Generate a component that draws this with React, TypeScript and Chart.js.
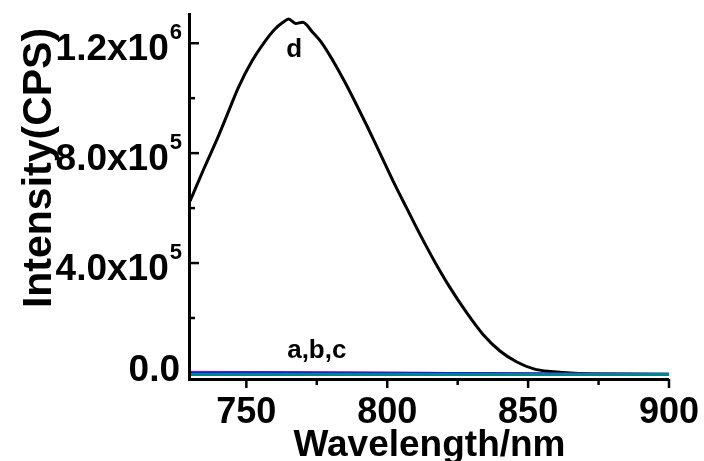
import React, { useEffect, useRef } from "react";
import { Chart, registerables } from "chart.js";

Chart.register(...registerables);

// Curve d (wavelength nm, intensity CPS)
const wavelengthD = [730, 735, 740, 744, 747, 752, 756.5, 760, 763, 765, 767.5, 770, 773.5, 777, 781, 785, 789, 793, 797.5, 802, 807, 812, 817, 822, 828, 834, 840, 846, 852, 858, 865, 875, 900];
const intensityD = [625000, 745000, 860000, 960000, 1035000, 1135000, 1205000, 1250000, 1276000, 1288000, 1272000, 1276000, 1240000, 1198000, 1132000, 1058000, 978000, 895000, 798000, 700000, 598000, 497000, 402000, 315000, 222000, 140000, 80000, 40000, 15000, 5000, 0, -4000, -5000];

// Curves a, b, c (near baseline)
const wavelengthABC = [730, 760, 800, 850, 900];
const intensityA = [6000, 5000, 3000, 0, -2000];
const intensityB = [2000, 1500, 0, -2000, -3500];
const intensityC = [-6000, -6000, -6000, -6000, -6000];

const xMajorTicks = [750, 800, 850, 900];
const xMinorTicks = [775, 825, 875];
const yMajorTicks = [0, 400000, 800000, 1200000];
const yMinorTicks = [200000, 600000, 1000000];
const yTickMantissa = ["0.0", "4.0x10", "8.0x10", "1.2x10"];
const yTickExponent = ["", "5", "5", "6"];

const seriesLabels = ["d", "a,b,c"];
const seriesLabelX = [767, 775];
const seriesLabelY = [1150000, 54000];

const xTitle = "Wavelength/nm";
const yTitle = "Intensity(CPS)";

const FONT = "'Liberation Sans', Arial, sans-serif";

const axesPlugin = {
  id: "customAxes",
  afterDatasetsDraw(chart: any) {
    const { ctx, chartArea: ca, scales } = chart;
    const xs = scales.x;
    const ys = scales.y;
    ctx.save();
    ctx.strokeStyle = "#000";
    ctx.fillStyle = "#000";
    ctx.lineCap = "butt";
    // axis lines
    ctx.lineWidth = 3;
    ctx.beginPath();
    ctx.moveTo(ca.left - 0.5, ca.top);
    ctx.lineTo(ca.left - 0.5, ca.bottom + 1.5);
    ctx.stroke();
    ctx.beginPath();
    ctx.moveTo(ca.left - 2, ca.bottom + 0.5);
    ctx.lineTo(ca.right, ca.bottom + 0.5);
    ctx.stroke();

    // x ticks (outward, down)
    ctx.lineWidth = 2.5;
    xMajorTicks.forEach((t) => {
      const px = xs.getPixelForValue(t);
      ctx.beginPath();
      ctx.moveTo(px, ca.bottom);
      ctx.lineTo(px, ca.bottom + 9);
      ctx.stroke();
    });
    xMinorTicks.forEach((t) => {
      const px = xs.getPixelForValue(t);
      ctx.beginPath();
      ctx.moveTo(px, ca.bottom);
      ctx.lineTo(px, ca.bottom + 6);
      ctx.stroke();
    });
    // y ticks (inward, right)
    yMajorTicks.forEach((t) => {
      if (t === 0) return;
      const py = ys.getPixelForValue(t);
      ctx.beginPath();
      ctx.moveTo(ca.left, py);
      ctx.lineTo(ca.left + 9, py);
      ctx.stroke();
    });
    yMinorTicks.forEach((t) => {
      const py = ys.getPixelForValue(t);
      ctx.beginPath();
      ctx.moveTo(ca.left, py);
      ctx.lineTo(ca.left + 5, py);
      ctx.stroke();
    });

    // x tick labels
    ctx.font = `bold 36px ${FONT}`;
    ctx.textAlign = "center";
    ctx.textBaseline = "alphabetic";
    xMajorTicks.forEach((t) => {
      const px = xs.getPixelForValue(t);
      ctx.fillText(String(t), px, ca.bottom + 44);
    });

    // y tick labels with superscripts
    const rightEdge = ca.left - 8;
    yMajorTicks.forEach((t, i) => {
      const py = ys.getPixelForValue(t);
      const exp = yTickExponent[i];
      let x = rightEdge;
      const base = t === 0 ? py + 8 : py + 17;
      if (exp) {
        ctx.font = `bold 22px ${FONT}`;
        ctx.textAlign = "right";
        ctx.fillText(exp, x, py - 4);
        x -= ctx.measureText(exp).width + 1;
      } else {
        x -= 2;
      }
      ctx.font = `bold 37px ${FONT}`;
      ctx.textAlign = "right";
      ctx.fillText(yTickMantissa[i], x, base);
    });

    // axis titles
    ctx.font = `bold 37px ${FONT}`;
    ctx.textAlign = "center";
    ctx.fillText(xTitle, (ca.left + ca.right) / 2, 456);

    ctx.save();
    ctx.translate(51, 168);
    ctx.rotate(-Math.PI / 2);
    ctx.font = `bold 41px ${FONT}`;
    ctx.textAlign = "center";
    ctx.fillText(yTitle, 0, 0);
    ctx.restore();

    // series labels
    ctx.font = `bold 26px ${FONT}`;
    ctx.textAlign = "center";
    seriesLabels.forEach((s, i) => {
      ctx.fillText(s, xs.getPixelForValue(seriesLabelX[i]), ys.getPixelForValue(seriesLabelY[i]));
    });
    ctx.restore();
  },
};

function toPoints(xv: number[], yv: number[]) {
  return xv.map((x, i) => ({ x, y: yv[i] }));
}

export default function App() {
  const canvasRef = useRef<HTMLCanvasElement | null>(null);
  useEffect(() => {
    if (!canvasRef.current) return;
    const chart = new Chart(canvasRef.current, {
      type: "line",
      data: {
        datasets: [
          { label: "a", order: 3, data: toPoints(wavelengthABC, intensityA), borderColor: "#ff2020", borderWidth: 1, pointRadius: 0, tension: 0.3 },
          { label: "b", order: 2, data: toPoints(wavelengthABC, intensityB), borderColor: "#1a1aff", borderWidth: 2.5, pointRadius: 0, tension: 0.3 },
          { label: "c", order: 1, data: toPoints(wavelengthABC, intensityC), borderColor: "#008585", borderWidth: 3, pointRadius: 0, tension: 0.3 },
          { label: "d", order: 4, data: toPoints(wavelengthD, intensityD), borderColor: "#000000", borderWidth: 3, pointRadius: 0, cubicInterpolationMode: "monotone" },
        ],
      },
      options: {
        animation: false,
        responsive: false,
        devicePixelRatio: 1,
        layout: { padding: { left: 190, top: 13, right: 35, bottom: 82 } },
        plugins: { legend: { display: false }, tooltip: { enabled: false } },
        scales: {
          x: { type: "linear", min: 730, max: 900, display: false },
          y: { type: "linear", min: -22000, max: 1310000, display: false },
        },
      },
      plugins: [axesPlugin],
    } as any);
    return () => chart.destroy();
  }, []);
  return (
    <div style={{ position: "fixed", left: 0, top: 0, width: 704, height: 461, background: "#fff" }}>
      <canvas ref={canvasRef} width={704} height={461} />
    </div>
  );
}
